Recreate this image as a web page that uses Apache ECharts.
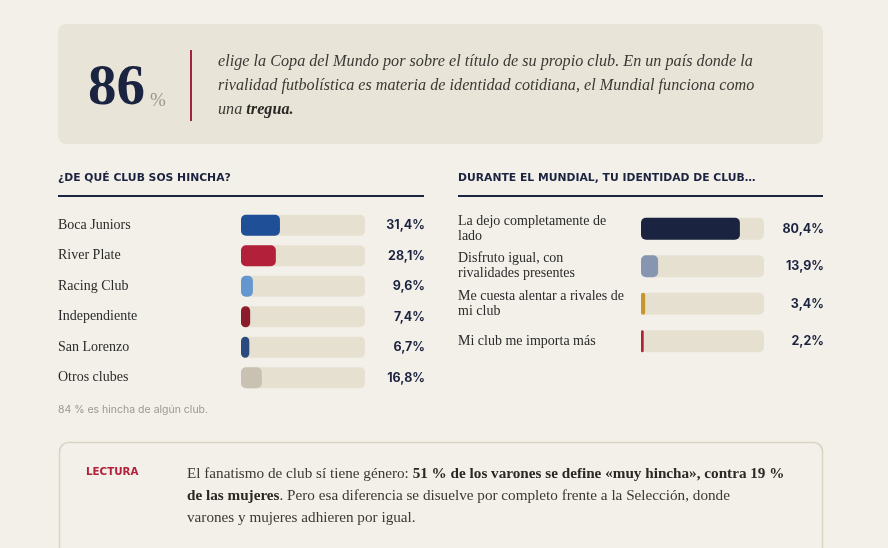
<!DOCTYPE html>
<html><head><meta charset="utf-8">
<script src="https://cdn.jsdelivr.net/npm/echarts@6/dist/echarts.min.js"></script>
<style>html,body{margin:0;padding:0;background:#f3f0e9;}#c{width:888px;height:548px;}</style>
</head><body><div id="c"></div>
<script>
// ---- data ----
const clubs = ['Boca Juniors','River Plate','Racing Club','Independiente','San Lorenzo','Otros clubes'];
const clubValues = [31.4, 28.1, 9.6, 7.4, 6.7, 16.8];
const identity = ['La dejo completamente de lado','Disfruto igual, con rivalidades presentes','Me cuesta alentar a rivales de mi club','Mi club me importa más'];
const identityValues = [80.4, 13.9, 3.4, 2.2];
const headlineValue = 86;
const footnote = '84 % es hincha de algún club.';

// ---- styles ----
const clubColors = ['#1f4f97','#b3203a','#6496cf','#8b1c2c','#2b4a7e','#c9c2b3'];
const identityColors = ['#1a2340','#8795b0','#c9962e','#b3203a'];
const TRACK = '#e6e0d1';
const NAVY = '#1c2340';
const SERIF = '"Liberation Serif", "DejaVu Serif", serif';
const SANS = 'Inter, "DejaVu Sans", sans-serif';
const fmt = v => v.toFixed(1).replace('.', ',') + '%';

// word wrap (layout only) measured with the label font
const mctx = document.createElement('canvas').getContext('2d');
mctx.font = '14px "Liberation Serif"';
function wrap(text, maxW) {
  const words = text.split(' ');
  const lines = [];
  let cur = '';
  for (const w of words) {
    const t = cur ? cur + ' ' + w : w;
    if (cur && mctx.measureText(t).width > maxW) { lines.push(cur); cur = w; }
    else cur = t;
  }
  if (cur) lines.push(cur);
  return lines.join('\n');
}

function makeAxes(cats, vals, gi, labelWidth) {
  return {
    y: [
      { type:'category', gridIndex:gi, data:cats, inverse:true, position:'left',
        axisLine:{show:false}, axisTick:{show:false},
        axisLabel:{ align:'left', margin:183, color:'#2a2a2a', fontFamily:SERIF, fontSize:14,
          lineHeight:15, formatter:v=>wrap(v, labelWidth) } },
      { type:'category', gridIndex:gi, data:cats, inverse:true, position:'right',
        axisLine:{show:false}, axisTick:{show:false},
        axisLabel:{ align:'right', margin:60, color:NAVY, fontFamily:SANS, fontWeight:'bold', fontSize:12.5,
          formatter:(v,i)=>fmt(vals[i]) } }
    ],
    x: { type:'value', gridIndex:gi, min:0, max:100, show:false }
  };
}
const a1 = makeAxes(clubs, clubValues, 0, 180);
const a2 = makeAxes(identity, identityValues, 1, 168);

const chart = echarts.init(document.getElementById('c'));
chart.setOption({
  backgroundColor:'#f3f0e9',
  animation:false,
  grid:[
    { left:241, right:888-365, top:210, height:183 },
    { left:641, right:888-764, top:210, height:150 }
  ],
  xAxis:[a1.x, a2.x],
  yAxis:[a1.y[0], a1.y[1], a2.y[0], a2.y[1]].map((y,i)=>Object.assign(y,{gridIndex: i<2?0:1})),
  series:[
    { type:'bar', xAxisIndex:0, yAxisIndex:0, barWidth:21,
      data: clubValues.map((v,i)=>({value:v, itemStyle:{color:clubColors[i]}})),
      itemStyle:{borderRadius:5},
      showBackground:true, backgroundStyle:{color:TRACK, borderRadius:5} },
    { type:'bar', xAxisIndex:1, yAxisIndex:2, barWidth:22,
      data: identityValues.map((v,i)=>({value:v, itemStyle:{color:identityColors[i]}})),
      itemStyle:{borderRadius:5},
      showBackground:true, backgroundStyle:{color:TRACK, borderRadius:5} }
  ],
  graphic:[
    // top callout
    { type:'rect', shape:{x:58,y:24,width:765,height:120,r:8}, style:{fill:'#e8e4d7'} },
    { type:'text', x:88, y:118, style:{ text:String(headlineValue), fontFamily:SERIF, fontWeight:'bold',
        fontSize:57, fill:'#1a2340', textVerticalAlign:'bottom' } },
    { type:'text', x:150, y:111, style:{ text:'%', fontFamily:SERIF, fontSize:19, fill:'#9c988f', textVerticalAlign:'bottom' } },
    { type:'rect', shape:{x:190,y:50,width:2,height:71}, style:{fill:'#a3243a'} },
    { type:'text', x:218, y:50, style:{
        text:'elige la Copa del Mundo por sobre el título de su propio club. En un país donde la\n' +
             'rivalidad futbolística es materia de identidad cotidiana, el Mundial funciona como\n' +
             'una {b|tregua.}',
        fontFamily:SERIF, fontStyle:'italic', fontSize:16.2, lineHeight:24, fill:'#3b3935',
        rich:{ b:{ fontFamily:SERIF, fontStyle:'italic', fontWeight:'bold', fontSize:16.2, lineHeight:24, fill:'#2a2824' } } } },
    // section titles
    { type:'text', x:58, y:173, style:{ text:'¿DE QUÉ CLUB SOS HINCHA?', fontFamily:'"DejaVu Sans"', fontWeight:'bold', fontSize:10.8, fill:NAVY } },
    { type:'rect', shape:{x:58,y:195,width:366,height:2}, style:{fill:NAVY} },
    { type:'text', x:458, y:173, style:{ text:'DURANTE EL MUNDIAL, TU IDENTIDAD DE CLUB…', fontFamily:'"DejaVu Sans"', fontWeight:'bold', fontSize:10.8, fill:NAVY } },
    { type:'rect', shape:{x:458,y:195,width:365,height:2}, style:{fill:NAVY} },
    { type:'text', x:58, y:404, style:{ text:footnote, fontFamily:SANS, fontSize:10.5, fill:'#9d988e' } },
    // bottom box
    { type:'rect', shape:{x:59.5,y:442.5,width:763,height:130,r:9}, style:{fill:'#f3f0e9', stroke:'#d9d3c3', lineWidth:1.5} },
    { type:'text', x:86, y:467, style:{ text:'LECTURA', fontFamily:'"DejaVu Sans"', fontWeight:'bold', fontSize:10.3, fill:'#b3203a' } },
    { type:'text', x:187, y:463, style:{
        text:'El fanatismo de club sí tiene género: {b|51 % de los varones se define «muy hincha», contra 19 %}\n' +
             '{b|de las mujeres}. Pero esa diferencia se disuelve por completo frente a la Selección, donde\n' +
             'varones y mujeres adhieren por igual.',
        fontFamily:SERIF, fontSize:15.2, lineHeight:22, fill:'#3a3833',
        rich:{ b:{ fontFamily:SERIF, fontWeight:'bold', fontSize:15.2, lineHeight:22, fill:'#2a2824' } } } }
  ]
});
</script></body></html>
